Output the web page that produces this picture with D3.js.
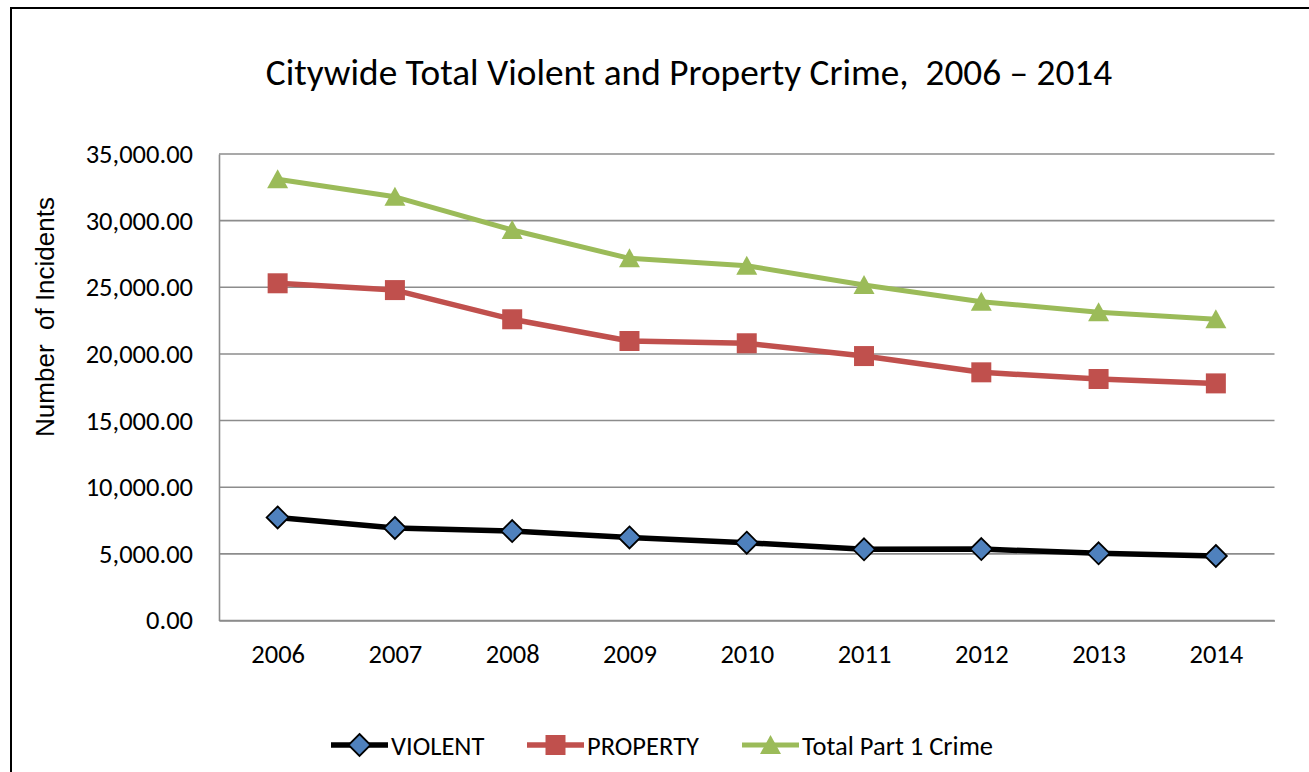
<!DOCTYPE html>
<html>
<head>
<meta charset="utf-8">
<script src="https://cdn.jsdelivr.net/npm/d3@7"></script>
<style>
  html, body { margin: 0; padding: 0; background: #fff; }
  svg { display: block; }
  text { white-space: pre; }
</style>
</head>
<body>
<svg id="chart" width="1309" height="772"></svg>
<script>
const years = ["2006", "2007", "2008", "2009", "2010", "2011", "2012", "2013", "2014"];
const violent = [7730, 6940, 6710, 6230, 5840, 5340, 5360, 5040, 4840];
const property = [25300, 24790, 22600, 20970, 20800, 19840, 18620, 18120, 17790];
const totalPart1 = [33100, 31790, 29300, 27170, 26620, 25170, 23920, 23120, 22600];
const yTicks = [0, 5000, 10000, 15000, 20000, 25000, 30000, 35000];
const seriesNames = ["VIOLENT", "PROPERTY", "Total Part 1 Crime"];
const titleText = "Citywide Total Violent and Property Crime,  2006 \u2013 2014";
const yTitle = "Number  of Incidents";

const svg = d3.select("#chart");
const font = "Carlito, Calibri, Lato, sans-serif";

// outer frame
svg.append("rect").attr("x", 11).attr("y", 8).attr("width", 1330).attr("height", 790)
  .attr("fill", "none").attr("stroke", "#000").attr("stroke-width", 2);

const plot = { left: 219, right: 1274.5, top: 154, bottom: 620.5 };

const x = d3.scalePoint().domain(years).range([plot.left, plot.right]).padding(0.5);
const y = d3.scaleLinear().domain([0, 35000]).range([plot.bottom, plot.top]);

// gridlines
svg.append("g").selectAll("line").data(yTicks).join("line")
  .attr("x1", plot.left).attr("x2", plot.right)
  .attr("y1", d => y(d)).attr("y2", d => y(d))
  .attr("stroke", "#8c8c8c").attr("stroke-width", 1.6);

// y axis
const yAxis = svg.append("g").attr("transform", `translate(${plot.left},0)`)
  .call(d3.axisLeft(y).tickValues(yTicks).tickSize(0).tickPadding(26)
    .tickFormat(d => d3.format(",.2f")(d)));
yAxis.select(".domain").attr("stroke", "#8c8c8c").attr("stroke-width", 1.6);
yAxis.selectAll("text").attr("font-family", font).attr("font-size", 26.5).attr("fill", "#000");

// x axis
const xAxis = svg.append("g").attr("transform", `translate(0,${plot.bottom})`)
  .call(d3.axisBottom(x).tickSize(0).tickPadding(24));
xAxis.select(".domain").attr("stroke", "#8c8c8c").attr("stroke-width", 1.6);
xAxis.selectAll("text").attr("font-family", font).attr("font-size", 26.5).attr("fill", "#000");

// title
svg.append("text").attr("x", 689).attr("y", 85).attr("text-anchor", "middle")
  .attr("font-family", font).attr("font-size", 37.3).attr("fill", "#000").text(titleText);

// y title
svg.append("text").attr("transform", "translate(54,317) rotate(-90)")
  .attr("text-anchor", "middle").attr("font-family", "'Liberation Sans', Arial, sans-serif")
  .attr("font-size", 26).attr("fill", "#000").text(yTitle);

const series = [
  { name: seriesNames[0], values: violent, color: "#000000", fill: "#4F81BD", shape: "diamond", width: 5.5 },
  { name: seriesNames[1], values: property, color: "#C0504D", fill: "#C0504D", shape: "square", width: 5.5 },
  { name: seriesNames[2], values: totalPart1, color: "#9BBB59", fill: "#9BBB59", shape: "triangle", width: 5 }
];

function markerPath(shape) {
  if (shape === "diamond") return "M0,-11L11,0L0,11L-11,0Z";
  if (shape === "square") return "M-10,-10L10,-10L10,10L-10,10Z";
  return "M0,-10L10.5,9L-10.5,9Z";
}

const line = d3.line().x((d, i) => x(years[i])).y(d => y(d));

series.forEach(s => {
  svg.append("path").datum(s.values).attr("d", line)
    .attr("fill", "none").attr("stroke", s.color).attr("stroke-width", s.width)
    .attr("stroke-linejoin", "round");
  svg.append("g").selectAll("path").data(s.values).join("path")
    .attr("transform", (d, i) => `translate(${x(years[i])},${y(d)})`)
    .attr("d", markerPath(s.shape))
    .attr("fill", s.fill)
    .attr("stroke", s.shape === "diamond" ? "#000" : "none")
    .attr("stroke-width", 1.8);
});

// legend
const legendX = [331, 527, 742];
const legendY = 745;
series.forEach((s, i) => {
  const g = svg.append("g").attr("transform", `translate(${legendX[i]},${legendY})`);
  g.append("line").attr("x1", 0).attr("x2", 57).attr("y1", 0).attr("y2", 0)
    .attr("stroke", s.color).attr("stroke-width", s.width);
  g.append("path").attr("transform", "translate(28.5,0)").attr("d", markerPath(s.shape))
    .attr("fill", s.fill).attr("stroke", s.shape === "diamond" ? "#000" : "none").attr("stroke-width", 1.8);
  g.append("text").attr("x", 60).attr("y", 9.5).attr("font-family", font).attr("font-size", 26.5)
    .attr("fill", "#000").text(s.name);
});
</script>
</body>
</html>
